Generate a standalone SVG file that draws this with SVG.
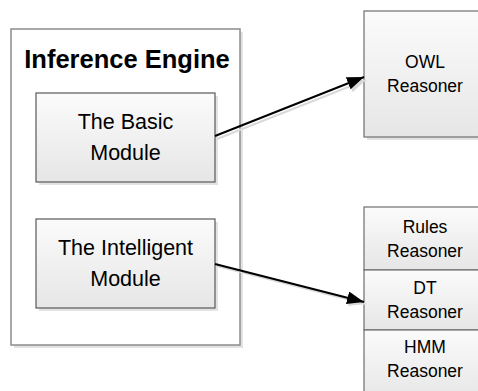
<svg xmlns="http://www.w3.org/2000/svg" width="478" height="391" viewBox="0 0 478 391">
<defs>
<linearGradient id="g" x1="0" y1="0" x2="0" y2="1">
<stop offset="0" stop-color="#fbfbfb"/>
<stop offset="1" stop-color="#e6e6e6"/>
</linearGradient>
<marker id="ah" markerWidth="18" markerHeight="13" refX="17" refY="6.5" orient="auto" markerUnits="userSpaceOnUse">
<path d="M0,0 L17,6.5 L0,13 Z" fill="#000"/>
</marker>
<marker id="ahs" markerWidth="18" markerHeight="13" refX="17" refY="6.5" orient="auto" markerUnits="userSpaceOnUse">
<path d="M0,0 L17,6.5 L0,13 Z" fill="#d9d9d9"/>
</marker>
</defs>
<style>
.shadow{fill:#e3e3e3}
.box{fill:url(#g);stroke:#595959;stroke-width:1.2}
.rbox{fill:url(#g);stroke:#6e6e6e;stroke-width:1.2}
.outer{fill:#fff;stroke:#8c8c8c;stroke-width:1.5}
.t{font-family:"Liberation Sans",Arial,sans-serif;fill:#000;text-anchor:middle}
.m{font-size:21.5px}
.r{font-size:17.5px}
.title{font-size:25.5px;font-weight:bold}
.conn{stroke:#000;stroke-width:2;fill:none}
.conns{stroke:#d9d9d9;stroke-width:2;fill:none}
</style>
<g id="engine">
<rect class="shadow" x="14" y="32" width="229" height="316"/>
<rect class="outer" x="11" y="29" width="229" height="316"/>
<text class="t title" x="127" y="68">Inference Engine</text>
</g>
<g id="basic">
<rect class="shadow" x="39" y="96" width="179" height="89"/>
<rect class="box" x="36" y="93" width="179" height="89"/>
<text class="t m" x="125.5" y="129">The Basic</text>
<text class="t m" x="125.5" y="160">Module</text>
</g>
<g id="intelligent">
<rect class="shadow" x="39" y="222" width="179" height="89"/>
<rect class="box" x="36" y="219" width="179" height="89"/>
<text class="t m" x="125.5" y="255">The Intelligent</text>
<text class="t m" x="125.5" y="286">Module</text>
</g>
<g id="owl">
<rect class="shadow" x="367" y="14" width="120" height="126"/>
<rect class="rbox" x="364" y="11" width="120" height="126"/>
<text class="t r" x="425" y="68">OWL</text>
<text class="t r" x="425" y="92">Reasoner</text>
</g>
<g id="rules">
<rect class="rbox" x="364" y="207" width="120" height="63"/>
<text class="t r" x="425" y="233">Rules</text>
<text class="t r" x="425" y="257">Reasoner</text>
</g>
<g id="dt">
<rect class="rbox" x="364" y="270" width="120" height="60"/>
<text class="t r" x="425" y="294">DT</text>
<text class="t r" x="425" y="318">Reasoner</text>
</g>
<g id="hmm">
<rect class="rbox" x="364" y="330" width="120" height="70"/>
<text class="t r" x="425" y="353">HMM</text>
<text class="t r" x="425" y="377">Reasoner</text>
</g>
<g id="connectors">
<line class="conns" x1="217" y1="139" x2="366" y2="80" marker-end="url(#ahs)"/>
<line class="conns" x1="217" y1="266" x2="366" y2="304" marker-end="url(#ahs)"/>
<line class="conn" x1="215" y1="136" x2="364" y2="77" marker-end="url(#ah)"/>
<line class="conn" x1="215" y1="264" x2="364" y2="302" marker-end="url(#ah)"/>
</g>
</svg>
